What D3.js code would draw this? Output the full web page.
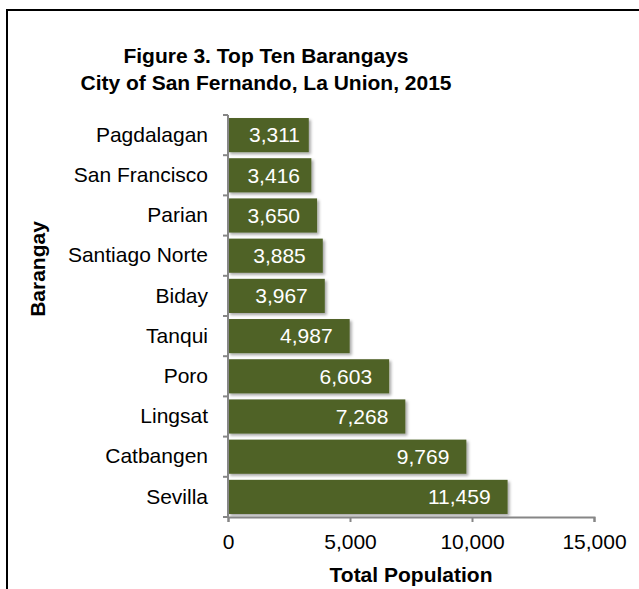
<!DOCTYPE html>
<html>
<head>
<meta charset="utf-8">
<script src="https://cdn.jsdelivr.net/npm/d3@7/dist/d3.min.js"></script>
<style>
body { margin: 0; background: #fff; }
svg text { font-family: Arial, "Liberation Sans", sans-serif; }
</style>
</head>
<body>
<script>
// data
var barangays = ["Pagdalagan", "San Francisco", "Parian", "Santiago Norte", "Biday",
                 "Tanqui", "Poro", "Lingsat", "Catbangen", "Sevilla"];
var population = [3311, 3416, 3650, 3885, 3967, 4987, 6603, 7268, 9769, 11459];
var xTicks = [0, 5000, 10000, 15000];
var titleLines = ["Figure 3. Top Ten Barangays", "City of San Fernando, La Union, 2015"];

var W = 639, H = 589;
var barColor = "#4f6228", axisColor = "#868686";
var fs = "21px";

var svg = d3.select("body").append("svg")
  .attr("width", W)
  .attr("height", H);

// drop shadow for the bars
var f = svg.append("defs").append("filter")
  .attr("id", "shadow")
  .attr("x", "-5%").attr("y", "-20%")
  .attr("width", "115%").attr("height", "150%");
f.append("feDropShadow")
  .attr("dx", 2).attr("dy", 2)
  .attr("stdDeviation", 1.5)
  .attr("flood-color", "#000")
  .attr("flood-opacity", 0.35);

// chart frame (runs off the right and bottom of the picture)
svg.append("rect")
  .attr("x", 7).attr("y", 10)
  .attr("width", 700).attr("height", 700)
  .attr("fill", "none")
  .attr("stroke", "#000")
  .attr("stroke-width", 2);

svg.selectAll("text.title")
  .data(titleLines)
  .enter()
  .append("text")
  .attr("class", "title")
  .attr("x", 266)
  .attr("y", function(d, i) { return 63 + i * 27; })
  .attr("text-anchor", "middle")
  .attr("font-size", "21px")
  .attr("font-weight", "bold")
  .text(function(d) { return d; });

var x = d3.scaleLinear().domain([0, 15000]).range([228, 594]);
var y = d3.scaleBand().domain(barangays).range([115, 517])
  .paddingInner(0.15).paddingOuter(0.075);

var data = barangays.map(function(b, i) { return {name: b, value: population[i]}; });

// bars
svg.selectAll("rect.bar")
  .data(data)
  .enter()
  .append("rect")
  .attr("class", "bar")
  .attr("x", x(0))
  .attr("y", function(d) { return y(d.name); })
  .attr("width", function(d) { return x(d.value) - x(0); })
  .attr("height", y.bandwidth())
  .attr("fill", barColor)
  .attr("filter", "url(#shadow)");

// value labels, inside end
var fmt = d3.format(",");
svg.selectAll("text.val")
  .data(data)
  .enter()
  .append("text")
  .attr("class", "val")
  .attr("x", function(d) { return Math.max(x(d.value) - 17, x(0) + 72); })
  .attr("y", function(d) { return y(d.name) + y.bandwidth() / 2; })
  .attr("dy", "0.35em")
  .attr("text-anchor", "end")
  .attr("font-size", fs)
  .attr("fill", "#fff")
  .text(function(d) { return fmt(d.value); });

// x axis
var xAxis = svg.append("g")
  .attr("transform", "translate(0,517)")
  .call(d3.axisBottom(x).tickValues(xTicks).tickFormat(fmt).tickSize(5).tickPadding(12));
xAxis.select(".domain").attr("stroke", axisColor).attr("stroke-width", 2);
xAxis.selectAll(".tick line").attr("stroke", axisColor).attr("stroke-width", 2);
xAxis.selectAll(".tick text")
  .attr("font-size", fs)
  .attr("font-family", "Arial, 'Liberation Sans', sans-serif")
  .attr("fill", "#000");

// y axis: labels centred, ticks on the band boundaries
var yAxis = svg.append("g")
  .attr("transform", "translate(228,0)")
  .call(d3.axisLeft(y).tickSize(0).tickPadding(20));
yAxis.select(".domain").remove();
yAxis.selectAll(".tick text")
  .attr("font-size", fs)
  .attr("font-family", "Arial, 'Liberation Sans', sans-serif")
  .attr("fill", "#000");

var bounds = d3.range(barangays.length + 1).map(function(i) {
  return y.range()[0] + i * y.step();
});
svg.append("line")
  .attr("x1", 228).attr("x2", 228)
  .attr("y1", y.range()[0]).attr("y2", y.range()[1])
  .attr("stroke", axisColor).attr("stroke-width", 2);
svg.selectAll("line.ytick")
  .data(bounds)
  .enter()
  .append("line")
  .attr("class", "ytick")
  .attr("x1", 223).attr("x2", 228)
  .attr("y1", function(d) { return d; })
  .attr("y2", function(d) { return d; })
  .attr("stroke", axisColor).attr("stroke-width", 2);

// axis titles
svg.append("text")
  .attr("x", 411).attr("y", 582)
  .attr("text-anchor", "middle")
  .attr("font-size", fs)
  .attr("font-weight", "bold")
  .text("Total Population");

svg.append("text")
  .attr("transform", "translate(45,269) rotate(-90)")
  .attr("text-anchor", "middle")
  .attr("font-size", fs)
  .attr("font-weight", "bold")
  .text("Barangay");
</script>
</body>
</html>
